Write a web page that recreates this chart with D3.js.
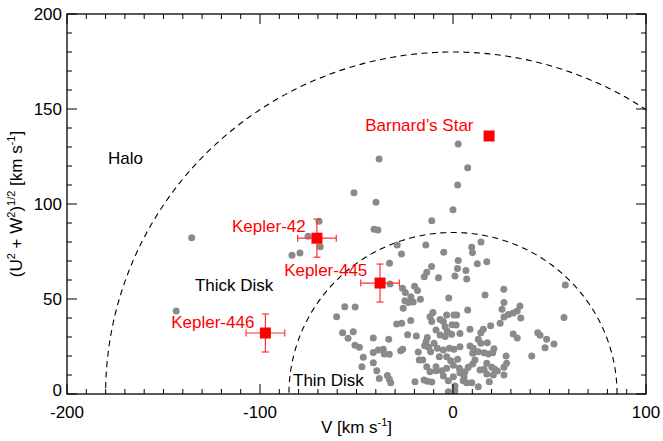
<!DOCTYPE html>
<html>
<head>
<meta charset="utf-8">
<script src="https://cdn.jsdelivr.net/npm/d3@7"></script>
<style>
body{margin:0;background:#fff;}
text{font-family:"Liberation Sans",Arial,Helvetica,sans-serif;}
</style>
</head>
<body>
<svg id="chart" width="663" height="441"></svg>
<script>
// ---- data ----
const xTicks = [-200, -100, 0, 100];
const yTicks = [0, 50, 100, 150, 200];
const diskRadii = [85, 180]; // thin disk / halo boundaries (km/s)

const starV  = [2.7,-38.3,7.6,2.4,-51.3,-39.9,0,-11,-40.9,-38.9,-135.4,-69.4,-75.1,-68.8,-79.3,-83.4,-28.9,-14.1,-4.8,-26.7,
  2.7,9.7,10.1,14.5,-32.9,-11.1,2.3,6.7,12.6,17.5,7.1,-13.6,-14.9,-7.5,1,-32.6,-26.2,-24.7,-19.9,-18.4,
  -21.8,-24.9,-23.1,-20.6,-16.9,-25.8,-2.2,-56.1,-50.7,-60.3,-10.4,-3.3,0.5,1.9,-21.9,-6.7,7.6,26.3,16.6,58.2,
  26.4,25.4,34.7,33.3,31.2,28.7,26.4,35.1,57.5,24.4,19.5,15.7,14.4,8.8,3.6,31.2,33.3,43.9,45.1,48.5,
  52.3,47.7,13.1,14.4,17.8,21.2,8.8,10.5,3.6,13.1,16.1,18.3,20.6,10.2,27.5,40.8,11.4,10.2,7.9,6.2,
  3.6,17.5,20.1,21.6,23,14,16.1,26.4,27.8,17.5,20.9,26.4,5.7,5.3,7.1,9.7,13.1,18.8,
  -57.2,-51.7,-54.4,-50.8,-48.5,-46.5,-47.2,-41.3,-33.3,-41.3,-38.7,-36.1,-35.6,-33,-41.3,-39.5,-38.2,-34,-33,-32.3,
  -29.2,-26.6,-27.1,-26.1,-23.5,-19,-19.7,-18,-17.5,-13.3,-14,-11.9,-11,-14.7,-12.6,-11.6,-15.7,-13.6,-11.9,-8.8,
  -15,-13.3,-11,-5,-4.1,-0.5,1.6,-8.8,-6.7,-3,-4.1,-0.7,-9.8,-8.1,-5,-1.9,0.5,-7.1,-3.3,-1.2,
  2.4,-8.8,-5.7,-3.3,0.2,3.3,-5,-2.4,0.2,1,1,-2.4,-143.4];
const starUW = [131.6,123.7,119.1,110,105.9,100.9,97,91.2,86.7,86.3,82.3,90.9,83,77.5,74.2,73,78.4,78.4,74.6,73.7,
  70.3,77.2,74.4,80,68.8,67.1,66.1,65,68.6,69.6,60.5,64.1,61.7,61.2,62.1,57.9,55.6,53.4,56.7,54.5,
  51.2,49.1,48.2,48.4,49.9,45.1,50.5,45.9,45.8,40.7,42.9,41.6,41.6,41.6,38.7,39.2,44.2,55.1,52.1,57.4,
  48.1,44.6,46.3,43.7,42.6,41.8,40.5,40,40.3,37.2,35.9,34.1,32.3,34.1,31.9,31.6,29.5,32.3,30.9,28.8,
  26.3,24.4,28.8,26.7,27,23.8,25.3,24.1,24.9,22.3,21.7,21.1,21.7,21.4,20,20,17.9,15.8,14.1,11.7,
  11.2,16.2,14.1,13,12.1,12.6,13,14.1,16.2,10.5,10,10,9.1,7,5.9,5.9,3.8,6.5,
  32.3,32.8,29.3,25.6,24.6,19.3,14.4,29.5,28.8,21.9,23.2,23.5,21.1,20.9,16.5,12.3,8.1,9.8,7.7,5.9,
  36.8,37.2,22.8,23.5,31.2,30.5,6.5,22.1,17.9,29.8,27.5,40.7,38.1,25.4,24.6,22.3,17.9,14.4,11.7,12.3,
  7.4,6.7,6.3,38.1,35.4,36.5,36.3,33.7,31.1,33,30.2,31.4,26.7,24.1,23.2,24.1,23.5,19.6,19.6,17.5,
  18.3,14.4,12.3,13.5,15.1,13.5,9.5,7,9.1,4.2,1.7,1.2,43.7];

const planetNames = ["Barnard\u2019s Star", "Kepler-42", "Kepler-445", "Kepler-446"];
const planetV   = [18.7, -70.5, -37.8, -97.2];
const planetUW  = [135.8, 82, 58.4, 32.1];
const planetErrV  = [0, 10, 10, 10];
const planetErrUW = [0, 10, 10, 10];

// ---- layout ----
const W = 663, H = 441;
const m = {left:67, right:17, top:14, bottom:47};
const svg = d3.select("#chart");
const x = d3.scaleLinear().domain([-200,100]).range([m.left, W-m.right]);
const y = d3.scaleLinear().domain([0,200]).range([H-m.bottom, m.top]);
const FS = 17;

svg.append("defs").append("clipPath").attr("id","clip")
  .append("rect").attr("x",m.left).attr("y",m.top)
  .attr("width",x(100)-x(-200)).attr("height",y(0)-y(200));

// dashed boundaries
const plot = svg.append("g").attr("clip-path","url(#clip)");
const arc = d3.line().x(d=>d[0]).y(d=>d[1]);
diskRadii.forEach(r=>{
  const pts = d3.range(0,181).map(a=>{
    const t = a*Math.PI/180;
    return [x(r*Math.cos(t)), y(r*Math.sin(t))];
  });
  plot.append("path").attr("d",arc(pts)).attr("fill","none")
    .attr("stroke","#000").attr("stroke-width",1.1).attr("stroke-dasharray","6,4.5");
});

// gray stars
plot.selectAll("circle.star").data(d3.range(starV.length)).enter().append("circle")
  .attr("class","star").attr("cx",i=>x(starV[i])).attr("cy",i=>y(starUW[i]))
  .attr("r",3.5).attr("fill","#8a8a8a");

// error bars
const eb = svg.append("g").attr("stroke","#ff3030").attr("stroke-width",1.2);
planetNames.forEach((n,i)=>{
  if(planetErrV[i]>0){
    const cx=x(planetV[i]), cy=y(planetUW[i]);
    const x0=x(planetV[i]-planetErrV[i]), x1=x(planetV[i]+planetErrV[i]);
    const y0=y(planetUW[i]-planetErrUW[i]), y1=y(planetUW[i]+planetErrUW[i]);
    eb.append("line").attr("x1",x0).attr("x2",x1).attr("y1",cy).attr("y2",cy);
    eb.append("line").attr("x1",cx).attr("x2",cx).attr("y1",y0).attr("y2",y1);
    eb.append("line").attr("x1",x0).attr("x2",x0).attr("y1",cy-3.5).attr("y2",cy+3.5);
    eb.append("line").attr("x1",x1).attr("x2",x1).attr("y1",cy-3.5).attr("y2",cy+3.5);
    eb.append("line").attr("x1",cx-3.5).attr("x2",cx+3.5).attr("y1",y0).attr("y2",y0);
    eb.append("line").attr("x1",cx-3.5).attr("x2",cx+3.5).attr("y1",y1).attr("y2",y1);
  }
});
// red squares
const S = 11;
svg.selectAll("rect.planet").data(planetNames).enter().append("rect")
  .attr("class","planet")
  .attr("x",(d,i)=>x(planetV[i])-S/2).attr("y",(d,i)=>y(planetUW[i])-S/2)
  .attr("width",S).attr("height",S).attr("fill","#ff0000");

// red labels (anchor points in data units)
const labelPos = [[-45.5,138.5],[-114.5,85.5],[-87.5,62],[-146,35]];
svg.selectAll("text.plab").data(planetNames).enter().append("text")
  .attr("class","plab").attr("x",(d,i)=>x(labelPos[i][0])).attr("y",(d,i)=>y(labelPos[i][1]))
  .attr("fill","#ff0000").attr("font-size",FS).text(d=>d);

// region labels
const regions = [["Halo",-178.8,121],["Thick Disk",-133.7,54.2],["Thin Disk",-82.9,4.2]];
svg.selectAll("text.reg").data(regions).enter().append("text")
  .attr("class","reg").attr("x",d=>x(d[1])).attr("y",d=>y(d[2]))
  .attr("fill","#000").attr("font-size",FS).text(d=>d[0]);

// axes frame with inward ticks
const axG = svg.append("g").attr("stroke","#000");
axG.append("rect").attr("x",m.left).attr("y",m.top)
  .attr("width",x(100)-x(-200)).attr("height",y(0)-y(200))
  .attr("fill","none").attr("stroke-width",1.3);
const xMinor = d3.range(-200,101,10), yMinor = d3.range(0,201,10);
xMinor.forEach(v=>{
  const major = xTicks.includes(v); const L = major?10:5;
  axG.append("line").attr("x1",x(v)).attr("x2",x(v)).attr("y1",y(0)).attr("y2",y(0)-L).attr("stroke-width",1);
  axG.append("line").attr("x1",x(v)).attr("x2",x(v)).attr("y1",y(200)).attr("y2",y(200)+L).attr("stroke-width",1);
});
yMinor.forEach(v=>{
  const major = yTicks.includes(v); const L = major?10:5;
  axG.append("line").attr("x1",x(-200)).attr("x2",x(-200)+L).attr("y1",y(v)).attr("y2",y(v)).attr("stroke-width",1);
  axG.append("line").attr("x1",x(100)).attr("x2",x(100)-L).attr("y1",y(v)).attr("y2",y(v)).attr("stroke-width",1);
});

// tick labels
svg.selectAll("text.xt").data(xTicks).enter().append("text")
  .attr("class","xt").attr("x",d=>x(d)).attr("y",y(0)+24)
  .attr("text-anchor","middle").attr("font-size",FS).text(d=>d);
svg.selectAll("text.yt").data(yTicks).enter().append("text")
  .attr("class","yt").attr("x",x(-200)-5).attr("y",d=>y(d)+(d===0?2:6))
  .attr("text-anchor","end").attr("font-size",FS).text(d=>d);

// axis titles
const xt = svg.append("text").attr("x",(x(-200)+x(100))/2).attr("y",H-8)
  .attr("text-anchor","middle").attr("font-size",FS);
xt.append("tspan").text("V [km s");
xt.append("tspan").attr("dy",-7).attr("font-size",11).text("-1");
xt.append("tspan").attr("dy",7).text("]");

const yt = svg.append("text").attr("transform",`translate(22,${(y(0)+y(200))/2}) rotate(-90)`)
  .attr("text-anchor","middle").attr("font-size",FS);
yt.append("tspan").text("(U");
yt.append("tspan").attr("dy",-7).attr("font-size",11).text("2");
yt.append("tspan").attr("dy",7).text(" + W");
yt.append("tspan").attr("dy",-7).attr("font-size",11).text("2");
yt.append("tspan").attr("dy",7).text(")");
yt.append("tspan").attr("dy",-7).attr("font-size",11).text("1/2");
yt.append("tspan").attr("dy",7).text(" [km s");
yt.append("tspan").attr("dy",-7).attr("font-size",11).text("-1");
yt.append("tspan").attr("dy",7).text("]");
</script>
</body>
</html>
